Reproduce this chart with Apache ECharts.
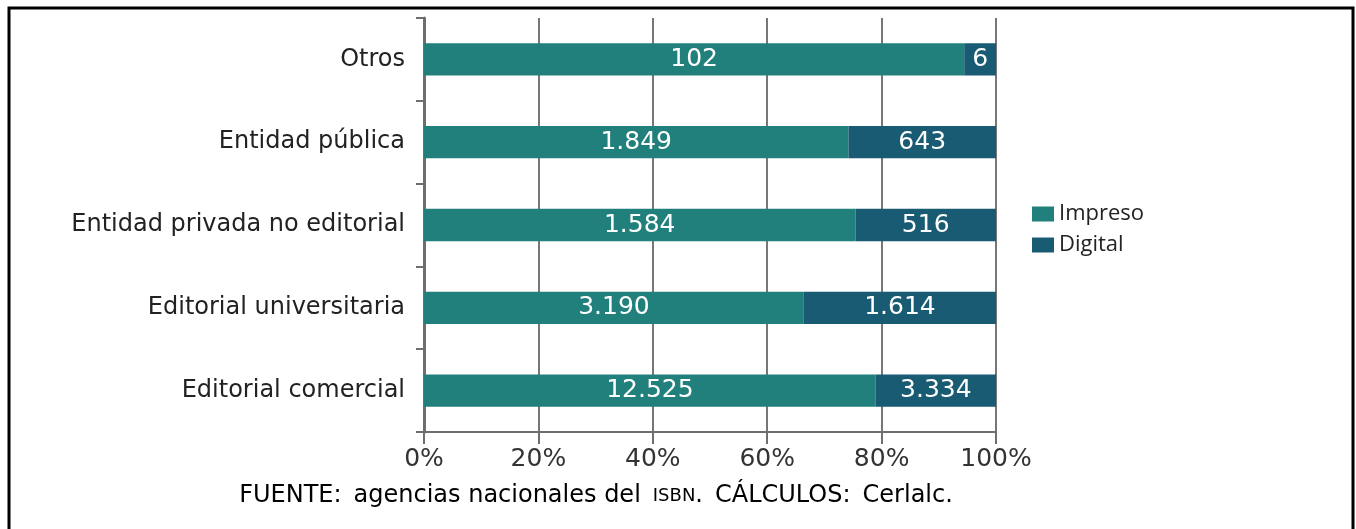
<!DOCTYPE html>
<html>
<head>
<meta charset="utf-8">
<script src="https://cdn.jsdelivr.net/npm/echarts@6/dist/echarts.min.js"></script>
<style>
    html, body { margin: 0; padding: 0; background: #fff; }
    #chart { width: 1356px; height: 529px; }
</style>
</head>
<body>
<div id="chart"></div>
<script>
// categorias, de abajo hacia arriba
var categories = ['Editorial comercial', 'Editorial universitaria', 'Entidad privada no editorial', 'Entidad pública', 'Otros'];
var impreso = [12525, 3190, 1584, 1849, 102];
var digital = [3334, 1614, 516, 643, 6];
var xTicks = ['0%', '20%', '40%', '60%', '80%', '100%'];

// porcentaje de cada segmento sobre el total de la fila
function share(arr, i) {
    return arr[i] / (impreso[i] + digital[i]) * 100;
}
function fmt(n) {
    return String(n).replace(/\B(?=(\d{3})+(?!\d))/g, '.');
}
function buildSeries(name, arr, color) {
    return {
        name: name,
        type: 'bar',
        stack: 'total',
        barWidth: '39%',
        itemStyle: { color: color },
        label: {
            show: true,
            position: 'inside',
            color: '#fff',
            fontSize: 25,
            fontFamily: 'DejaVu Sans',
            formatter: function (p) { return fmt(arr[p.dataIndex]); }
        },
        data: arr.map(function (v, i) { return share(arr, i); })
    };
}

var myChart = echarts.init(document.getElementById('chart'));
var option = {
    animation: false,
    grid: { left: 424, right: 360, top: 18, bottom: 97 },
    legend: {
        orient: 'vertical',
        left: 1027,
        top: 198,
        itemWidth: 22,
        itemHeight: 15,
        itemGap: 9,
        icon: 'rect',
        textStyle: { fontSize: 22, color: '#222', fontFamily: 'Open Sans' },
        data: ['Impreso', 'Digital']
    },
    xAxis: {
        type: 'value',
        min: 0,
        max: 100,
        interval: 20,
        axisLine: { show: true, lineStyle: { color: '#6e6e6e', width: 2 } },
        axisTick: { show: true, length: 12, lineStyle: { color: '#6e6e6e', width: 2 } },
        splitLine: { show: true, lineStyle: { color: '#777', width: 2 } },
        axisLabel: {
            fontSize: 25,
            color: '#333',
            fontFamily: 'DejaVu Sans',
            margin: 15,
            formatter: function (v) { return xTicks[v / 20]; }
        }
    },
    yAxis: {
        type: 'category',
        data: categories,
        axisLine: { show: true, lineStyle: { color: '#6e6e6e', width: 3 } },
        axisTick: { show: true, length: 8, lineStyle: { color: '#6e6e6e', width: 2 } },
        axisLabel: { fontSize: 24, color: '#222', fontFamily: 'DejaVu Sans', margin: 19 }
    },
    series: [
        buildSeries('Impreso', impreso, '#22807c'),
        buildSeries('Digital', digital, '#185b72')
    ],
    graphic: [
        {
            type: 'rect',
            shape: { x: 9, y: 8, width: 1344, height: 540 },
            style: { fill: 'none', stroke: '#000', lineWidth: 3 },
            silent: true
        },
        {
            type: 'text',
            x: 596,
            y: 484,
            style: {
                textAlign: 'center',
                text: '{g|FUENTE:}{sp| }{b|agencias nacionales del}{sp| }{s|ISBN}{b|.}{sp| }{g|CÁLCULOS:}{sp| }{b|Cerlalc.}',
                rich: {
                    g: { fontSize: 24, color: '#777', fontFamily: 'DejaVu Sans' },
                    b: { fontSize: 24, color: '#222', fontFamily: 'DejaVu Sans' },
                    s: { fontSize: 18, color: '#222', fontFamily: 'DejaVu Sans' },
                    sp: { fontSize: 24, width: 12 }
                }
            }
        }
    ]
};
myChart.setOption(option);
</script>
</body>
</html>
